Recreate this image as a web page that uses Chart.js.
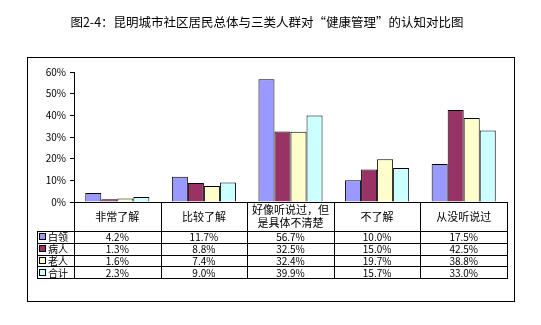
<!DOCTYPE html>
<html>
<head>
<meta charset="utf-8">
<script src="https://cdn.jsdelivr.net/npm/chart.js@4"></script>
<style>
  body { margin: 0; background: #fff; }
  #wrap { width: 541px; height: 325px; }
</style>
</head>
<body>
<div id="wrap"><canvas id="cognitionChart" width="541" height="325"></canvas></div>
<script>
const categories = ['非常了解', '比较了解', ['好像听说过，但', '是具体不清楚'], '不了解', '从没听说过'];
const seriesNames = ['白领', '病人', '老人', '合计'];
const whiteCollar = [4.2, 11.7, 56.7, 10.0, 17.5];
const patients = [1.3, 8.8, 32.5, 15.0, 42.5];
const elderly = [1.6, 7.4, 32.4, 19.7, 38.8];
const total = [2.3, 9.0, 39.9, 15.7, 33.0];
const yTicks = [0, 10, 20, 30, 40, 50, 60];

const seriesColors = ['#9999ff', '#993366', '#ffffcc', '#ccffff'];
const seriesValues = [whiteCollar, patients, elderly, total];
const FONT = '"Noto Sans CJK SC", "DejaVu Sans", sans-serif';

// frame around chart + data table under the plot
const tablePlugin = {
    id: 'dataTable',
    beforeDraw(chart) {
        const ctx = chart.ctx;
        ctx.save();
        ctx.strokeStyle = '#000';
        ctx.lineWidth = 1;
        ctx.strokeRect(27.5, 57.5, 487, 244);
        ctx.restore();
    },
    afterDraw(chart) {
        const ctx = chart.ctx;
        const area = chart.chartArea;
        const x = chart.scales.x;
        const top = Math.round(area.bottom);
        const headerH = 29;
        const rowH = 11.8;
        const legendLeft = 37;
        const left = Math.round(area.left);
        const right = Math.round(area.right);
        const colW = (area.right - area.left) / categories.length;
        const rowsTop = top + headerH;
        const bottom = Math.round(rowsTop + rowH * seriesNames.length);

        ctx.save();
        ctx.strokeStyle = '#000';
        ctx.lineWidth = 1;
        ctx.beginPath();
        ctx.moveTo(left, top + 0.5); ctx.lineTo(right + 1, top + 0.5);
        for (let r = 0; r <= seriesNames.length; r++) {
            const y = Math.round(rowsTop + r * rowH) + 0.5;
            ctx.moveTo(legendLeft, y); ctx.lineTo(right + 1, y);
        }
        for (let c = 0; c <= categories.length; c++) {
            const xx = Math.round(area.left + c * colW) + 0.5;
            ctx.moveTo(xx, top); ctx.lineTo(xx, bottom + 1);
        }
        ctx.moveTo(legendLeft + 0.5, rowsTop); ctx.lineTo(legendLeft + 0.5, bottom + 1);
        ctx.stroke();

        ctx.fillStyle = '#000';
        ctx.textAlign = 'center';
        ctx.textBaseline = 'middle';
        ctx.font = '11px ' + FONT;
        categories.forEach((cat, i) => {
            const cx = x.getPixelForValue(i);
            const lines = Array.isArray(cat) ? cat : [cat];
            const lh = 13;
            const y0 = top + headerH / 2 - (lines.length - 1) * lh / 2;
            lines.forEach((ln, k) => ctx.fillText(ln, cx, y0 + k * lh));
        });

        ctx.font = '10px ' + FONT;
        seriesValues.forEach((vals, r) => {
            const cy = rowsTop + r * rowH + rowH / 2 + 0.5;
            vals.forEach((v, i) => {
                ctx.fillText(v.toFixed(1) + '%', x.getPixelForValue(i), cy);
            });
        });

        ctx.textAlign = 'left';
        ctx.font = '10px ' + FONT;
        seriesNames.forEach((name, r) => {
            const cy = rowsTop + r * rowH + rowH / 2 + 0.5;
            ctx.fillStyle = seriesColors[r];
            ctx.fillRect(39.5, Math.round(cy) - 3.5, 6, 6);
            ctx.strokeRect(39.5, Math.round(cy) - 3.5, 6, 6);
            ctx.fillStyle = '#000';
            ctx.fillText(name, 48, cy);
        });
        ctx.restore();
    }
};

const ctx = document.getElementById('cognitionChart').getContext('2d');
new Chart(ctx, {
    type: 'bar',
    data: {
        labels: categories,
        datasets: seriesNames.map((name, i) => ({
            label: name,
            data: seriesValues[i],
            backgroundColor: seriesColors[i],
            borderColor: '#000',
            borderWidth: 1,
            categoryPercentage: 0.74,
            barPercentage: 1.0
        }))
    },
    options: {
        responsive: false,
        animation: false,
        devicePixelRatio: 1,
        layout: { padding: { left: 27, right: 34, top: 0, bottom: 123 } },
        plugins: {
            legend: { display: false },
            tooltip: { enabled: false },
            title: {
                display: true,
                text: '图2-4：昆明城市社区居民总体与三类人群对“健康管理”的认知对比图',
                color: '#000',
                font: { family: FONT, size: 12.5, weight: 'normal' },
                padding: { top: 14.5, bottom: 42.5 }
            }
        },
        scales: {
            x: { display: false },
            y: {
                min: 0,
                max: 60,
                afterFit: s => { s.width = 47; },
                afterBuildTicks: s => { s.ticks = yTicks.map(v => ({ value: v })); },
                grid: { drawOnChartArea: false, color: '#000', tickLength: 4 },
                border: { color: '#000' },
                ticks: {
                    color: '#000',
                    padding: 4,
                    font: { family: FONT, size: 10 },
                    callback: v => v + '%'
                }
            }
        }
    },
    plugins: [tablePlugin]
});
</script>
</body>
</html>
